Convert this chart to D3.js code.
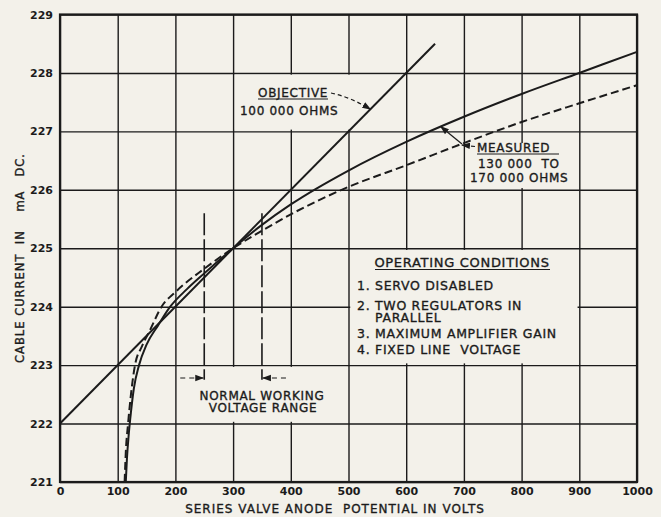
<!DOCTYPE html>
<html>
<head>
<meta charset="utf-8">
<script src="https://cdn.jsdelivr.net/npm/d3@7"></script>
<style>
  body { margin: 0; background: #f3f1ea; }
  svg { display: block; }
  text { font-family: "DejaVu Sans", sans-serif; fill: #1b1b1b; }
</style>
</head>
<body>
<div id="chart"></div>
<script>
// tick values of both axes
const xTicks = [0, 100, 200, 300, 400, 500, 600, 700, 800, 900, 1000];
const yTicks = [221, 222, 223, 224, 225, 226, 227, 228, 229];

// objective, 100 000 ohms (straight line)
const objectiveVolts = [0, 650];
const objectiveMa = [222, 228.5];

// measured, full line
const measuredVolts = [114, 116, 119, 123, 128, 137, 150, 170, 191, 220, 250, 300, 350, 400, 500, 600, 700, 800, 900, 1000];
const measuredMa = [221.0, 221.4, 221.8, 222.2, 222.6, 223.0, 223.35, 223.68, 224.0, 224.3, 224.57, 225.0, 225.4, 225.75, 226.33, 226.82, 227.25, 227.64, 228.0, 228.36];

// measured, dashed line
const measuredDashVolts = [112, 114, 118, 123, 130, 142, 156, 176, 200, 250, 300, 350, 400, 500, 600, 700, 800, 900, 1000];
const measuredDashMa = [221.0, 221.5, 222.0, 222.5, 223.0, 223.32, 223.6, 224.0, 224.25, 224.65, 225.0, 225.3, 225.58, 226.05, 226.42, 226.8, 227.16, 227.48, 227.79];

// normal working voltage range
const workingRange = [250, 350];

// operating conditions box
const conditions = ["1. SERVO DISABLED", "2. TWO REGULATORS IN", "PARALLEL", "3. MAXIMUM AMPLIFIER GAIN", "4. FIXED LINE  VOLTAGE"];

const paper = "#f3f1ea", ink = "#1b1b1b";
const width = 661, height = 517;
const margin = {top: 14.5, right: 24, bottom: 35, left: 60};

const svg = d3.select("#chart").append("svg")
    .attr("width", width)
    .attr("height", height);

svg.append("rect").attr("width", width).attr("height", height).attr("fill", paper);

const defs = svg.append("defs");
defs.append("marker")
    .attr("id", "arrow")
    .attr("viewBox", "0 -4 9 8")
    .attr("refX", 8).attr("refY", 0)
    .attr("markerWidth", 9).attr("markerHeight", 8)
    .attr("markerUnits", "userSpaceOnUse")
    .attr("orient", "auto")
    .append("path").attr("d", "M0,-3.2L9,0L0,3.2Z").attr("fill", ink);

const x = d3.scaleLinear().domain([0, 1000]).range([margin.left, width - margin.right]);
const y = d3.scaleLinear().domain([221, 229]).range([height - margin.bottom, margin.top]);

// grid + tick labels
const xAxis = svg.append("g")
    .attr("transform", `translate(0,${y(221)})`)
    .call(d3.axisBottom(x).tickValues(xTicks).tickFormat(d3.format("d")).tickSize(-(y(221) - y(229))).tickPadding(5));
const yAxis = svg.append("g")
    .attr("transform", `translate(${x(0)},0)`)
    .call(d3.axisLeft(y).tickValues(yTicks).tickFormat(d3.format("d")).tickSize(-(x(1000) - x(0))).tickPadding(7));
[xAxis, yAxis].forEach(g => {
    g.select(".domain").remove();
    g.selectAll("line").attr("stroke", ink).attr("stroke-width", 1.4);
    g.selectAll("text").attr("font-family", "DejaVu Sans").attr("font-weight", "bold")
        .attr("font-size", 11).attr("fill", ink);
});

// white areas behind the labels (grid lines hidden there)
const blank = (v0, v1, c0, c1) => svg.append("rect")
    .attr("x", x(v0)).attr("y", y(c1))
    .attr("width", x(v1) - x(v0)).attr("height", y(c0) - y(c1))
    .attr("fill", paper);
blank(303, 597, 227.03, 227.97);
blank(703, 897, 226.03, 226.8);
blank(503, 897, 223.03, 224.97);
blank(203, 497, 222.03, 222.97);

// frame
svg.append("rect")
    .attr("x", x(0)).attr("y", y(229))
    .attr("width", x(1000) - x(0)).attr("height", y(221) - y(229))
    .attr("fill", "none").attr("stroke", ink).attr("stroke-width", 2.2);

// curves
const line = d3.line().x(d => x(d[0])).y(d => y(d[1])).curve(d3.curveMonotoneX);
svg.append("path")
    .datum(d3.zip(objectiveVolts, objectiveMa))
    .attr("d", line).attr("fill", "none").attr("stroke", ink).attr("stroke-width", 2);
svg.append("path")
    .datum(d3.zip(measuredVolts, measuredMa))
    .attr("d", line).attr("fill", "none").attr("stroke", ink).attr("stroke-width", 2);
svg.append("path")
    .datum(d3.zip(measuredDashVolts, measuredDashMa))
    .attr("d", line).attr("fill", "none").attr("stroke", ink).attr("stroke-width", 2)
    .attr("stroke-dasharray", "8,4");

// working range marks
svg.selectAll(".range").data(workingRange).join("line")
    .attr("class", "range")
    .attr("x1", d => x(d)).attr("x2", d => x(d))
    .attr("y1", y(225.6)).attr("y2", y(222.75))
    .attr("stroke", ink).attr("stroke-width", 1.6)
    .attr("stroke-dasharray", "22,4");
svg.append("line")
    .attr("x1", x(workingRange[0]) - 24).attr("x2", x(workingRange[0]) - 1)
    .attr("y1", y(222.78)).attr("y2", y(222.78))
    .attr("stroke", ink).attr("stroke-width", 1.2).attr("stroke-dasharray", "5,4")
    .attr("marker-end", "url(#arrow)");
svg.append("line")
    .attr("x1", x(workingRange[1]) + 24).attr("x2", x(workingRange[1]) + 1)
    .attr("y1", y(222.78)).attr("y2", y(222.78))
    .attr("stroke", ink).attr("stroke-width", 1.2).attr("stroke-dasharray", "5,4")
    .attr("marker-end", "url(#arrow)");

// text in the picture is a heavier face than DejaVu Book, so give it a thin outline
const label = (tx, ty, s, size, anchor) => svg.append("text")
    .attr("x", tx).attr("y", ty)
    .attr("font-size", size)
    .attr("letter-spacing", 0.7)
    .attr("stroke", ink).attr("stroke-width", 0.35)
    .attr("text-anchor", anchor || "start")
    .style("white-space", "pre")
    .text(s);
const underline = (x0, x1, yy) => svg.append("line")
    .attr("x1", x0).attr("x2", x1).attr("y1", yy).attr("y2", yy)
    .attr("stroke", ink).attr("stroke-width", 1.2);

label(262, 400, "NORMAL WORKING", 12, "middle");
label(263, 412, "VOLTAGE RANGE", 12, "middle");

// objective label
label(258, 96.5, "OBJECTIVE", 12);
underline(258, 328, 99);
label(240, 115, "100 000 OHMS", 12);
svg.append("path")
    .attr("d", `M331,93 Q350,97 ${x(538)},${y(227.38)}`)
    .attr("fill", "none").attr("stroke", ink).attr("stroke-width", 1.2)
    .attr("stroke-dasharray", "4,3").attr("marker-end", "url(#arrow)");

// measured label
label(477, 151.5, "MEASURED", 12);
underline(477, 559, 154);
label(478, 168, "130 000  TO", 12);
label(470, 181.5, "170 000 OHMS", 12);
svg.append("line")
    .attr("x1", 475).attr("y1", 146.5).attr("x2", 462).attr("y2", 145)
    .attr("stroke", ink).attr("stroke-width", 1.2).attr("stroke-dasharray", "4,2")
    .attr("marker-end", "url(#arrow)");
svg.append("line")
    .attr("x1", 462).attr("y1", 144).attr("x2", x(660)).attr("y2", y(227.08))
    .attr("stroke", ink).attr("stroke-width", 1.2)
    .attr("marker-end", "url(#arrow)");

// operating conditions
label(462, 266.5, "OPERATING CONDITIONS", 13, "middle");
underline(375, 550, 269.5);
const rows = [290, 310, 322, 337.5, 353.5];
conditions.forEach((c, i) => {
    const m = c.match(/^(\d\.)\s(.*)$/);
    if (m) {
        label(357, rows[i], m[1], 12.5);
        label(375, rows[i], m[2], 12.5);
    } else {
        label(375, rows[i], c, 12.5);
    }
});

// axis titles
label(335, 513, "SERIES VALVE ANODE  POTENTIAL IN VOLTS", 12, "middle")
    .attr("letter-spacing", 1);
svg.append("text")
    .attr("transform", `translate(24,258) rotate(-90)`)
    .attr("text-anchor", "middle")
    .attr("font-size", 11.5)
    .attr("letter-spacing", 1)
    .attr("stroke", ink).attr("stroke-width", 0.35)
    .style("white-space", "pre")
    .text("CABLE CURRENT  IN    mA   DC.");
</script>
</body>
</html>
